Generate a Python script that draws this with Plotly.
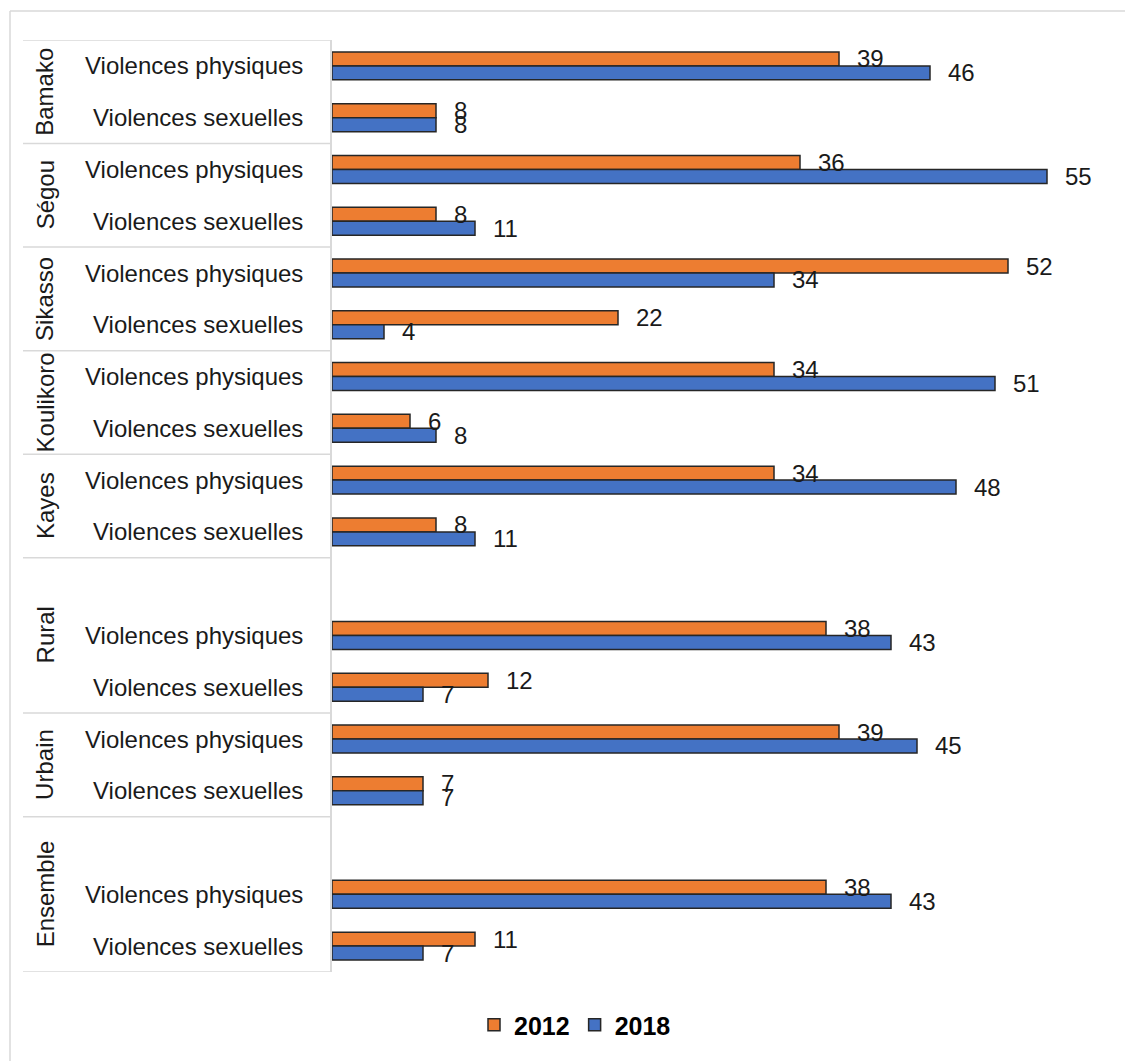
import plotly.graph_objects as go

# ---- data ----
groups = ["Bamako", "Ségou", "Sikasso", "Koulikoro", "Kayes", "Rural", "Urbain", "Ensemble"]
group_spacer = [False, False, False, False, False, True, False, True]
categories = ["Violences physiques", "Violences sexuelles"]
years = ["2012", "2018"]
v2012 = [39, 8, 36, 8, 52, 22, 34, 6, 34, 8, 38, 12, 39, 7, 38, 11]
v2018 = [46, 8, 55, 11, 34, 4, 51, 8, 48, 11, 43, 7, 45, 7, 43, 7]

colors = ["#ED7D31", "#4472C4"]
FONT = "Liberation Sans, Arial, sans-serif"
TXT = "#1a1a1a"

# ---- build row positions ----
row = 0
ypos, ylab = [], []
group_bounds = []
for g, sp in zip(groups, group_spacer):
    start = row - 0.5
    if sp:
        row += 1
    for c in categories:
        ypos.append(row)
        ylab.append(c)
        row += 1
    end = row - 0.5
    group_bounds.append((g, start, end))
n_rows = row

W, H = 1125, 1061
ml, mr, mt, mb = 332, 15, 40, 89
pw = W - ml - mr
ph = H - mt - mb

fig = go.Figure()
for yr, vals, col in zip(years, [v2012, v2018], colors):
    fig.add_trace(go.Bar(
        name=yr, y=ypos, x=vals, orientation="h",
        marker=dict(color=col, line=dict(color="#262626", width=1.5)),
    ))

bargap = 0.46
bw = (1 - bargap) / 2
annotations = []
for k, vals in enumerate([v2012, v2018]):
    off = (-bw / 2) if k == 0 else (bw / 2)
    for y, v in zip(ypos, vals):
        annotations.append(dict(
            x=v, y=y + off, xref="x", yref="y", text=str(v), showarrow=False,
            xanchor="left", yanchor="middle", xshift=16,
            font=dict(family=FONT, size=24, color=TXT)))

# category labels
for y, lab in zip(ypos, ylab):
    annotations.append(dict(
        x=0, y=y, xref="paper", yref="y", text=lab, showarrow=False,
        xanchor="right", yanchor="middle", xshift=-27,
        font=dict(family=FONT, size=24, color=TXT)))

shapes = []
for g, s, e in group_bounds:
    annotations.append(dict(
        x=0, y=(s + e) / 2, xref="paper", yref="y", text=g, showarrow=False,
        textangle=-90, xanchor="center", yanchor="middle", xshift=-(ml - 45),
        font=dict(family=FONT, size=24, color=TXT)))
bounds = sorted(set([b[1] for b in group_bounds] + [b[2] for b in group_bounds]))
for b in bounds:
    shapes.append(dict(type="line", xref="paper", yref="y", xsizemode="pixel",
                       xanchor=0, x0=-(ml - 23), x1=0, y0=b, y1=b,
                       line=dict(color="#D9D9D9", width=1.5)))

# outer frame (top and left edges)
shapes.append(dict(type="line", xref="paper", yref="paper",
                   x0=(10 - ml) / pw, x1=(W + 20 - ml) / pw,
                   y0=(H - mb - 11) / ph, y1=(H - mb - 11) / ph,
                   line=dict(color="#D9D9D9", width=1.5)))
shapes.append(dict(type="line", xref="paper", yref="paper",
                   x0=(10 - ml) / pw, x1=(10 - ml) / pw,
                   y0=(H - mb - 11) / ph, y1=(H - mb - H - 20) / ph,
                   line=dict(color="#D9D9D9", width=1.5)))

fig.update_layout(
    width=W, height=H,
    margin=dict(l=ml, r=mr, t=mt, b=mb),
    paper_bgcolor="white", plot_bgcolor="white",
    barmode="group", bargap=bargap, bargroupgap=0,
    xaxis=dict(range=[0, pw / 13.0], showgrid=False, showticklabels=False,
               zeroline=False, showline=False, ticks=""),
    yaxis=dict(range=[n_rows - 0.5, -0.5], showgrid=False, showticklabels=False,
               zeroline=False, showline=True, linecolor="#D9D9D9", linewidth=1.5,
               ticks=""),
    showlegend=True,
    legend=dict(orientation="h", xref="container", yref="container",
                x=474 / W, y=1 - 1025 / H, xanchor="left", yanchor="middle",
                font=dict(family=FONT, size=25, color="#000000", weight="bold"),
                traceorder="normal", itemwidth=30),
    annotations=annotations, shapes=shapes,
)

fig.write_html("out.html")
